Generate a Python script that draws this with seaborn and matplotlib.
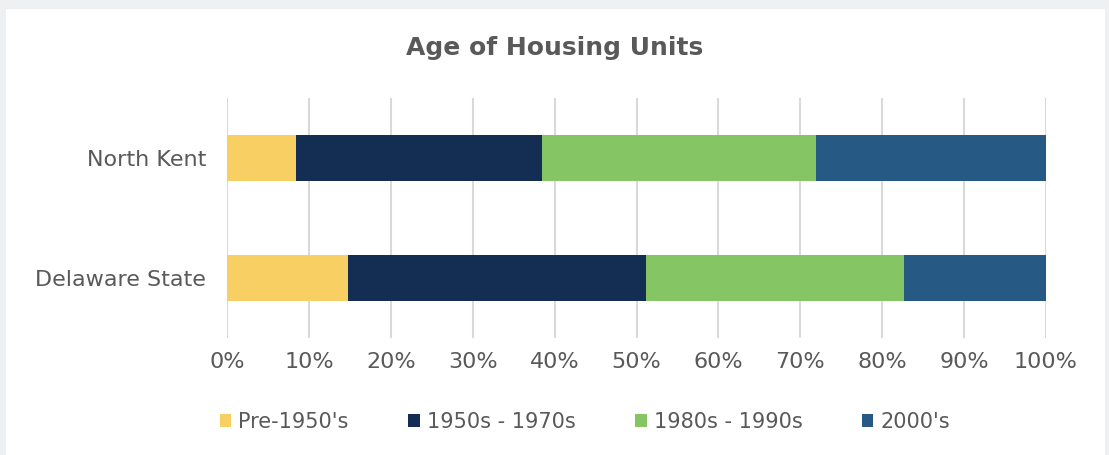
import matplotlib
matplotlib.use("Agg")
import matplotlib.pyplot as plt
from matplotlib.patches import Rectangle, Patch
import seaborn as sns
import pandas as pd
import numpy as np

# Share of housing units by construction period (percent)
regions = ["North Kent", "Delaware State"]
periods = ["Pre-1950's", "1950s - 1970s", "1980s - 1990s", "2000's"]
pre_1950 = [8.4, 14.8]
y1950_1970 = [30.1, 36.4]
y1980_1990 = [33.4, 31.5]
y2000 = [28.1, 17.3]
colors = ["#F8CF63", "#142D52", "#86C564", "#265A85"]
x_ticks = list(range(0, 101, 10))
x_tick_labels = [f"{t}%" for t in x_ticks]

sns.set_theme(style="white")
plt.rcParams["font.family"] = ["DejaVu Sans"]
text_color = "#595959"

fig = plt.figure(figsize=(11.09, 4.55), dpi=100)
fig.patch.set_facecolor("#EFF0F2")
# white card behind the chart
fig.add_artist(Rectangle((6 / 1109, 0), (1105 - 6) / 1109, (455 - 9) / 455,
                         transform=fig.transFigure, facecolor="white",
                         edgecolor="none", zorder=0))

ax = fig.add_axes([227 / 1109, (455 - 338) / 455, (1046 - 227) / 1109, 240 / 455])
ax.set_facecolor("none")

series = [pre_1950, y1950_1970, y1980_1990, y2000]
cum = np.cumsum(np.array(series), axis=0)
# draw cumulative totals from the longest down so each segment shows on top
for i in range(len(periods) - 1, -1, -1):
    df = pd.DataFrame({"region": regions, "value": cum[i]})
    sns.barplot(data=df, y="region", x="value", orient="h", color=colors[i],
                width=0.39, ax=ax, saturation=1, edgecolor="none", zorder=3)

ax.set_xlim(0, 100)
ax.set_ylim(1.5, -0.5)
ax.set_xticks(x_ticks)
ax.set_xticklabels(x_tick_labels)
ax.grid(axis="x", color="#D9D9D9", linewidth=1.5, zorder=0)
ax.set_axisbelow(True)
for s in ax.spines.values():
    s.set_visible(False)
ax.tick_params(axis="x", length=0, pad=10, labelsize=16, labelcolor=text_color)
ax.tick_params(axis="y", length=0, pad=15, labelsize=16, labelcolor=text_color)
ax.set_xlabel("")
ax.set_ylabel("")

fig.text(555 / 1109, (455 - 48) / 455, "Age of Housing Units", ha="center", va="center",
         fontsize=18, fontweight="bold", color=text_color)

handles = [Patch(facecolor=c, edgecolor="none") for c in colors]
leg = fig.legend(handles, periods, loc="center", bbox_to_anchor=(585 / 1109, (455 - 422) / 455),
                 ncol=4, frameon=False, fontsize=15, handlelength=0.55, handleheight=0.6,
                 handletextpad=0.35, columnspacing=2.85, labelcolor=text_color)

fig.savefig("out.png", dpi=100, facecolor=fig.get_facecolor())
